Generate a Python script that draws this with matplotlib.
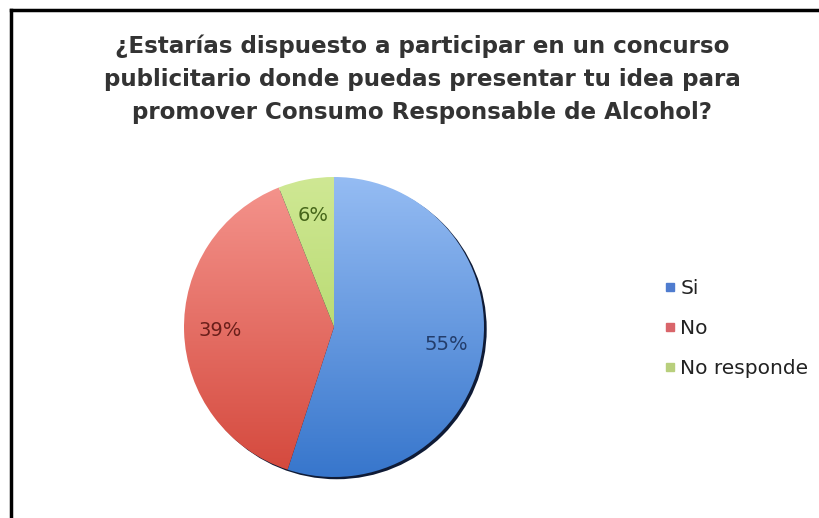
import numpy as np
import matplotlib
matplotlib.use("Agg")
import matplotlib.pyplot as plt
from matplotlib.lines import Line2D
from matplotlib.patches import Circle
from matplotlib.colors import LinearSegmentedColormap

plt.rcParams['font.family'] = ['DejaVu Sans']

titulo = ["¿Estarías dispuesto a participar en un concurso",
          "publicitario donde puedas presentar tu idea para",
          "promover Consumo Responsable de Alcohol?"]
categorias = ["Si", "No", "No responde"]
porcentajes = [55, 39, 6]

# colores (arriba, abajo) de cada porción, color del texto y del marcador
degradados = [("#95bcf3", "#3776cc"), ("#f5958e", "#d4483c"), ("#cfe894", "#a6cf55")]
color_texto = ["#233d6b", "#6a1f1a", "#46661a"]
color_leyenda = ["#4f7ccf", "#d9656a", "#b8cf7c"]

W, H = 820, 518
fig = plt.figure(figsize=(W / 100, H / 100), dpi=100)
fig.patch.set_facecolor("white")

# marco del gráfico
fig.add_artist(Line2D([11 / W, 1], [1 - 10 / H, 1 - 10 / H], color="black", lw=2.5))
fig.add_artist(Line2D([11 / W, 11 / W], [0, 1 - 10 / H], color="black", lw=2.5))

for i, linea in enumerate(titulo):
    fig.text(422 / W, 1 - (53 + 33 * i) / H, linea, ha="center", va="baseline",
             fontsize=16.6, fontweight="bold", color="#333333")

cx, cy, r = 334, 327, 150
lado = 170
ax = fig.add_axes([(cx - lado) / W, (H - cy - lado) / H, 2 * lado / W, 2 * lado / H])
lim = lado / r
ax.set_aspect("equal")
ax.axis("off")

wedges, textos, autotextos = ax.pie(
    porcentajes, startangle=90, counterclock=False, radius=1,
    autopct="%d%%", pctdistance=0.76,
    wedgeprops=dict(linewidth=0),
    textprops=dict(fontsize=14))

grad = np.linspace(1, 0, 256).reshape(-1, 1)
for w, (c1, c2), t, ct in zip(wedges, degradados, autotextos, color_texto):
    cmap = LinearSegmentedColormap.from_list("g", [c2, c1])
    w.set_facecolor("none")
    im = ax.imshow(grad, cmap=cmap, extent=[-1, 1, -1, 1], aspect="auto",
                   vmin=0, vmax=1, zorder=1)
    im.set_clip_path(w)
    t.set_color(ct)
    t.set_zorder(5)

# sombra oscura bajo el disco, visible en el borde derecho e inferior
ax.add_patch(Circle((0.018, -0.015), 1.0, facecolor="#0f1b36", edgecolor="none", zorder=0.5))

ax.set_xlim(-lim, lim)
ax.set_ylim(-lim, lim)

manejadores = [Line2D([], [], marker="s", linestyle="none", markersize=5.5,
                      markerfacecolor=c, markeredgecolor=c) for c in color_leyenda]
fig.legend(manejadores, categorias, loc="upper left",
           bbox_to_anchor=(646 / W, 1 - 261 / H), frameon=False, fontsize=14.5,
           handlelength=0.6, handletextpad=0.2, labelspacing=1.05,
           labelcolor="#222222")

fig.savefig("out.png", dpi=100)
